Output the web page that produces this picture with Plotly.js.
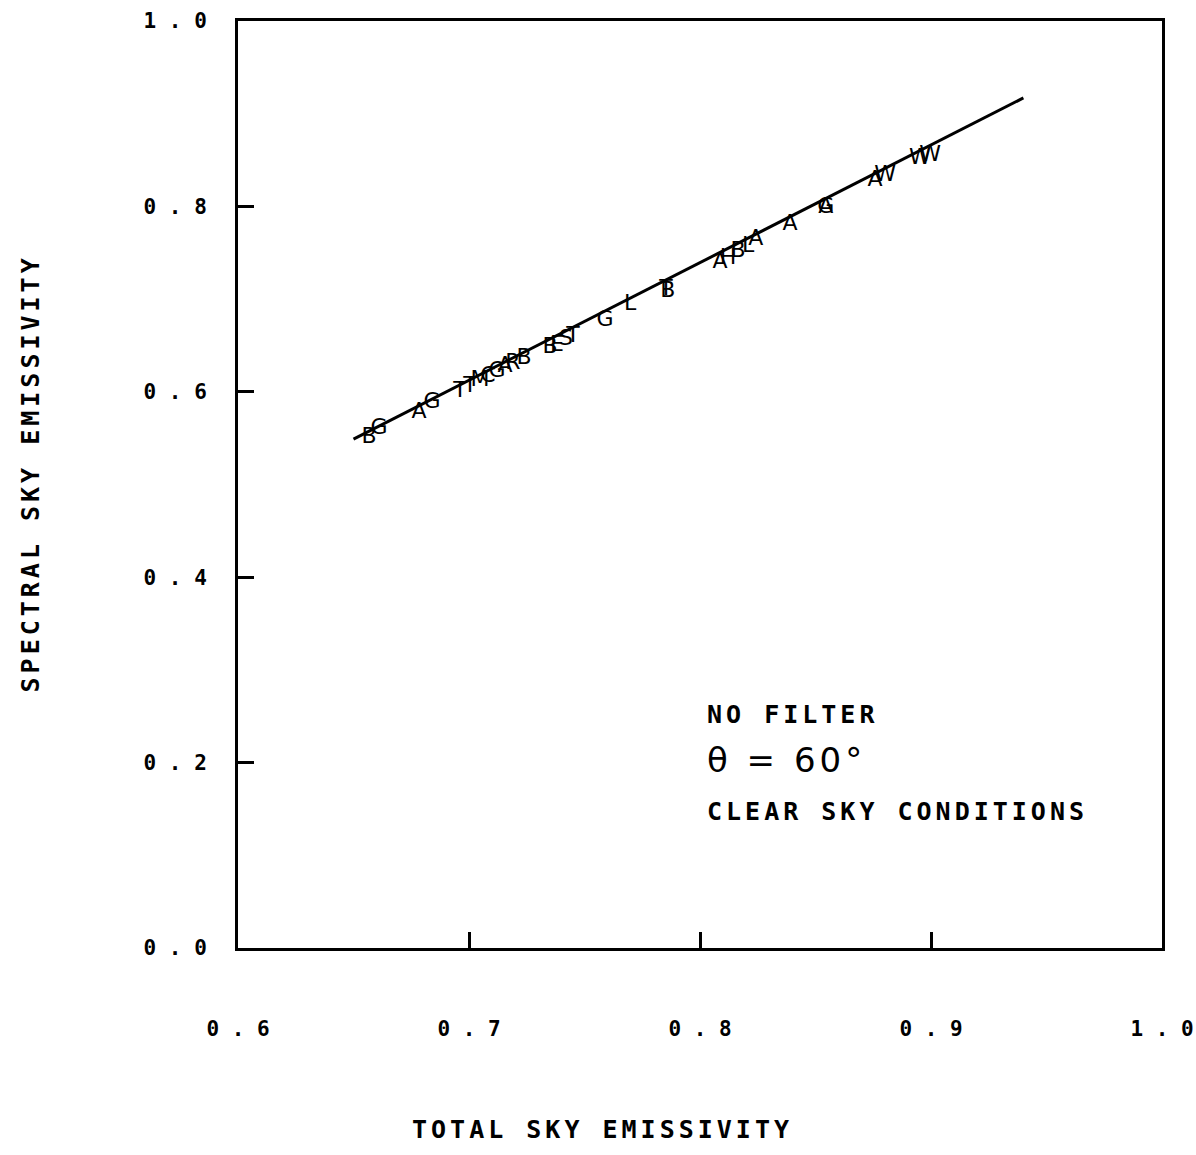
<!DOCTYPE html>
<html>
<head>
<meta charset="utf-8">
<script src="https://cdn.plot.ly/plotly-3.0.1.min.js"></script>
<style>
  body { margin: 0; background: #fff; }
  #chart { width: 1196px; height: 1155px; }
  .annotation-text { letter-spacing: 4px; }
</style>
</head>
<body>
<div id="chart"></div>
<script>
// Observed points: plotted letter symbols (total vs spectral sky emissivity)
const pointLabels = ["B","G","A","G","T","T","M","C","G","A","R","B","B","E","S","T","G","L","T","B","A","H","B","L","A","A","G","A","A","W","W","W"];
const totalEmissivity = [0.6567,0.6610,0.6784,0.6840,0.6961,0.7004,0.7048,0.7082,0.7121,0.7156,0.7190,0.7238,0.7351,0.7381,0.7420,0.7450,0.7589,0.7697,0.7853,0.7861,0.8087,0.8121,0.8165,0.8208,0.8242,0.8390,0.8545,0.8545,0.8758,0.8801,0.8952,0.8996];
const spectralEmissivity = [0.551,0.560,0.578,0.588,0.600,0.606,0.612,0.617,0.622,0.627,0.630,0.636,0.648,0.650,0.656,0.660,0.677,0.694,0.710,0.708,0.740,0.744,0.751,0.757,0.764,0.780,0.799,0.799,0.828,0.833,0.852,0.855];

// Fitted regression line end points
const fitX = [0.650, 0.940];
const fitY = [0.549, 0.917];

// Axis ticks
const xTickVals = [0.6, 0.7, 0.8, 0.9, 1.0];
const xTickText = ["0 . 6", "0 . 7", "0 . 8", "0 . 9", "1 . 0"];
const yTickVals = [0.0, 0.2, 0.4, 0.6, 0.8, 1.0];
const yTickText = ["0 . 0", "0 . 2", "0 . 4", "0 . 6", "0 . 8", "1 . 0"];

const mono = "DejaVu Sans Mono, Liberation Mono, monospace";

const traces = [
  {
    x: fitX, y: fitY, mode: "lines", type: "scatter",
    line: { color: "#000", width: 3 }, hoverinfo: "skip", showlegend: false
  },
  {
    x: totalEmissivity, y: spectralEmissivity, mode: "text", type: "scatter",
    text: pointLabels, textposition: "middle center",
    textfont: { family: "DejaVu Sans, sans-serif", size: 22, color: "#000" },
    showlegend: false
  }
];

const axisCommon = {
  showgrid: false, zeroline: false, showline: true, linecolor: "#000", linewidth: 3,
  mirror: true, ticks: "inside", ticklen: 16, tickwidth: 3, tickcolor: "#000",
  tickmode: "array", ticklabeloverflow: "allow",
  tickfont: { family: mono, size: 21, color: "#000", weight: "bold" }
};

const layout = {
  width: 1196, height: 1155,
  margin: { l: 238, r: 34, t: 21, b: 207 },
  paper_bgcolor: "#fff", plot_bgcolor: "#fff",
  xaxis: Object.assign({}, axisCommon, {
    range: [0.6, 1.0], tickvals: xTickVals, ticktext: xTickText, ticklabelstandoff: 60
  }),
  yaxis: Object.assign({}, axisCommon, {
    range: [0.0, 1.0], tickvals: yTickVals, ticktext: yTickText, ticklabelstandoff: 24
  }),
  annotations: [
    { text: "TOTAL SKY EMISSIVITY", xref: "paper", yref: "paper", x: 0.395, y: -0.196, xanchor: "center", yanchor: "middle",
      showarrow: false, font: { family: mono, size: 25, color: "#000", weight: "bold" } },
    { text: "SPECTRAL SKY EMISSIVITY", xref: "paper", yref: "paper", x: -0.225, y: 0.512, xanchor: "center", yanchor: "middle",
      textangle: -90, showarrow: false, font: { family: mono, size: 25, color: "#000", weight: "bold" } },
    { text: "NO FILTER", xref: "x", yref: "y", x: 0.8022, y: 0.252, xanchor: "left", yanchor: "middle",
      showarrow: false, font: { family: mono, size: 25, color: "#000", weight: "bold" } },
    { text: "θ = 60°", xref: "x", yref: "y", x: 0.8022, y: 0.203, xanchor: "left", yanchor: "middle",
      showarrow: false, font: { family: "Liberation Sans Narrow, DejaVu Sans, sans-serif", size: 34, color: "#000" } },
    { text: "CLEAR SKY CONDITIONS", xref: "x", yref: "y", x: 0.8022, y: 0.147, xanchor: "left", yanchor: "middle",
      showarrow: false, font: { family: mono, size: 25, color: "#000", weight: "bold" } }
  ]
};

Plotly.newPlot("chart", traces, layout, { displayModeBar: false, staticPlot: true });
</script>
</body>
</html>
